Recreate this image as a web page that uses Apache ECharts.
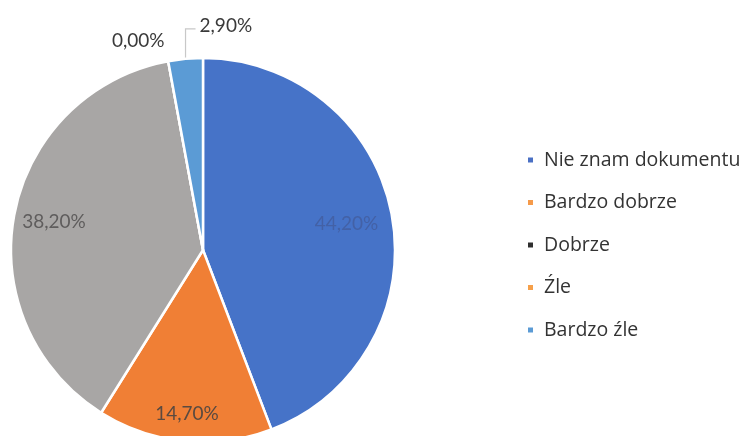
<!DOCTYPE html>
<html>
<head>
<meta charset="utf-8">
<script src="https://cdn.jsdelivr.net/npm/echarts@6/dist/echarts.min.js"></script>
<style>
  html, body { margin: 0; padding: 0; background: #ffffff; }
  #chart { width: 744px; height: 436px; }
</style>
</head>
<body>
<div id="chart"></div>
<script>
// Ocena dokumentu: udział odpowiedzi (%)
var categories = ['Nie znam dokumentu', 'Bardzo dobrze', 'Dobrze', 'Źle', 'Bardzo źle'];
var values = [44.2, 14.7, 38.2, 0.0, 2.9];

var sliceColors = ['#4673c8', '#f07f35', '#a8a6a5', '#ffc000', '#5b9bd5'];
var legendColors = ['#4a70c4', '#f59a4a', '#2e2e2e', '#f6a04a', '#5b9bd5'];
var labelColors = ['#4361a6', '#5a4a40', '#5f5d5d', '#3a3a3a', '#3a3a3a'];

var CENTER = [203, 250];
var RADIUS = 192;
// relative distance of inside labels from the centre
var labelDist = [0.76, 0.86, 0.79, null, null];

var total = values.reduce(function (a, b) { return a + b; }, 0);

function midAngle(i) {
  var before = 0;
  for (var k = 0; k < i; k++) before += values[k];
  return (before + values[i] / 2) / total * 2 * Math.PI;
}

function edgePoint(i, f) {
  var a = midAngle(i);
  return [CENTER[0] + f * RADIUS * Math.sin(a), CENTER[1] - f * RADIUS * Math.cos(a)];
}

var chart = echarts.init(document.getElementById('chart'), null, { renderer: 'canvas' });

var seriesData = categories.map(function (name, i) {
  var item = {
    name: name,
    value: values[i],
    itemStyle: { color: sliceColors[i] },
    label: { color: labelColors[i] }
  };
  if (i === 3) item.labelLine = { show: false };
  return item;
});

var legendData = categories.map(function (name, i) {
  return { name: name, itemStyle: { color: legendColors[i] } };
});

chart.setOption({
  backgroundColor: '#ffffff',
  animation: false,
  legend: {
    orient: 'vertical',
    left: 526,
    top: 149,
    padding: 0,
    icon: 'rect',
    itemWidth: 7,
    itemHeight: 7,
    itemGap: 20.5,
    selectedMode: false,
    data: legendData,
    textStyle: {
      fontFamily: 'Open Sans',
      fontSize: 19.5,
      lineHeight: 22,
      color: '#333333',
      padding: [0, 0, 0, 5]
    }
  },
  series: [{
    type: 'pie',
    center: CENTER,
    radius: RADIUS,
    startAngle: 90,
    clockwise: true,
    avoidLabelOverlap: false,
    minShowLabelAngle: 0,
    itemStyle: { borderColor: '#ffffff', borderWidth: 2.5 },
    label: {
      show: true,
      position: 'outside',
      fontFamily: 'Lato',
      fontSize: 19,
      formatter: function (p) {
        return p.value.toFixed(2).replace('.', ',') + '%';
      }
    },
    labelLine: {
      show: true,
      lineStyle: { color: '#c8c8c8', width: 1.2 }
    },
    labelLayout: function (params) {
      var i = params.dataIndex;
      if (labelDist[i] !== null) {
        var p = edgePoint(i, labelDist[i]);
        return { x: p[0], y: p[1], align: 'center', verticalAlign: 'middle', labelLinePoints: [p, p, p] };
      }
      var e = edgePoint(i, 1);
      if (i === 3) {
        return { x: e[0] - 30, y: e[1] - 20, align: 'center', verticalAlign: 'middle' };
      }
      var up = [e[0], e[1] - 30];
      var side = [e[0] + 10, e[1] - 30];
      return {
        x: e[0] + 14, y: e[1] - 33, align: 'left', verticalAlign: 'middle',
        labelLinePoints: [e, up, side]
      };
    },
    data: seriesData
  }]
});
</script>
</body>
</html>
